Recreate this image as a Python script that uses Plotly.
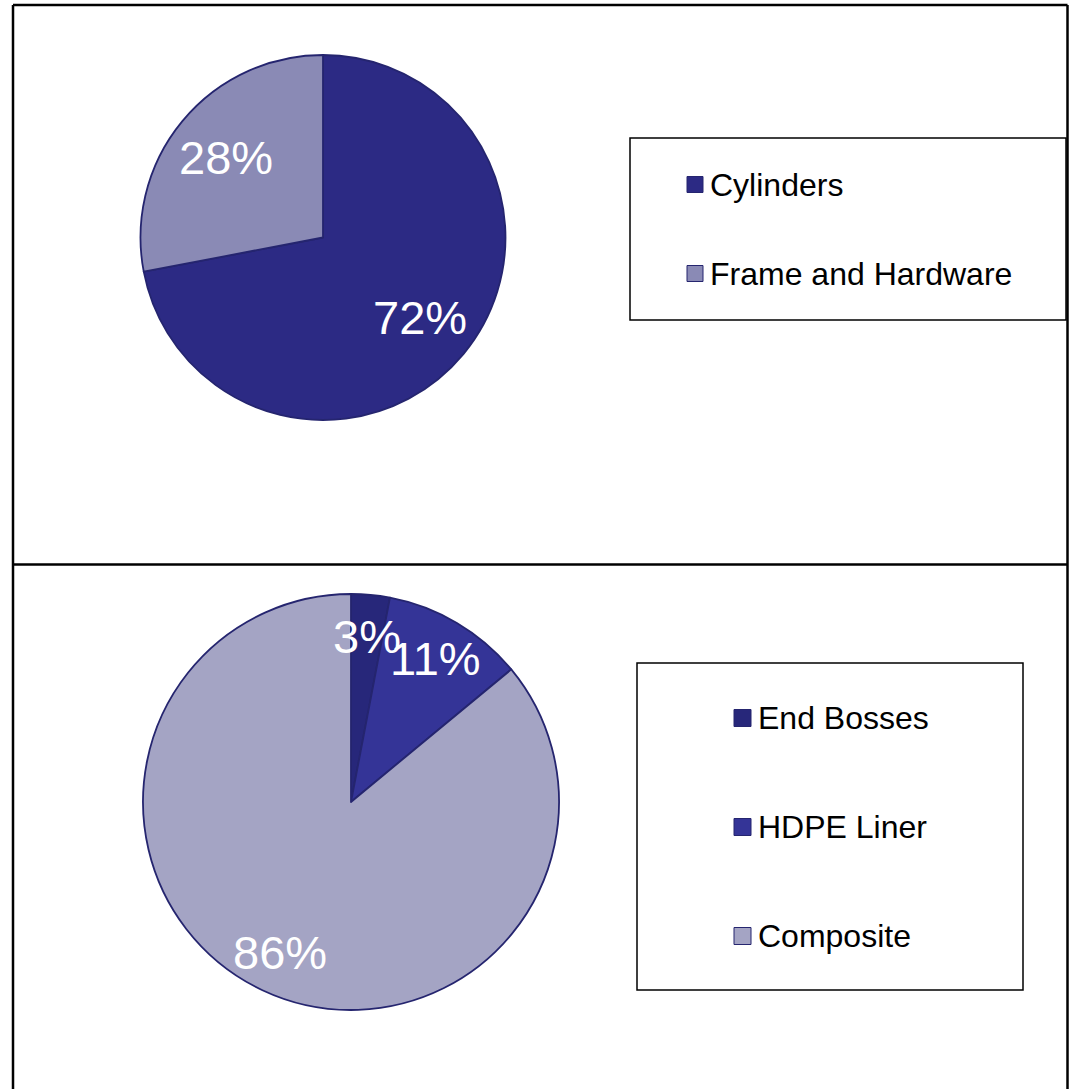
import math
import plotly.graph_objects as go

# ---- data ----
top_labels = ["Cylinders", "Frame and Hardware"]
top_values = [72, 28]
top_colors = ["#2C2A84", "#8A8AB5"]

bot_labels = ["End Bosses", "HDPE Liner", "Composite"]
bot_values = [3, 11, 86]
bot_colors = ["#27277A", "#343497", "#A4A4C4"]

W, H = 1070, 1089
OUTLINE = "#25256F"
FONT = "Liberation Sans, Arial, sans-serif"


def px(x):
    return x / W


def py(y):
    return 1 - y / H


fig = go.Figure()
annotations = []
shapes = []


def add_pie(labels, values, colors, cx, cy, r, label_ratio, label_size):
    fig.add_trace(go.Pie(
        labels=labels, values=values, sort=False, direction="clockwise",
        rotation=0, textinfo="none", showlegend=False,
        marker=dict(colors=colors, line=dict(color=OUTLINE, width=1.8)),
        domain=dict(x=[px(cx - r), px(cx + r)], y=[py(cy + r), py(cy - r)]),
    ))
    total = sum(values)
    cum = 0
    for v in values:
        mid = (cum + v / 2) / total * 2 * math.pi
        cum += v
        lx = cx + label_ratio * r * math.sin(mid)
        ly = cy - label_ratio * r * math.cos(mid)
        annotations.append(dict(
            x=px(lx), y=py(ly), xref="paper", yref="paper", showarrow=False,
            text=f"{round(v / total * 100)}%", xanchor="center", yanchor="middle",
            font=dict(family=FONT, size=label_size, color="white"),
        ))


def add_legend(labels, colors, box, first_y, gap, mx, msize, font_size):
    x0, y0, x1, y1 = box
    shapes.append(dict(type="rect", xref="paper", yref="paper",
                       x0=px(x0), x1=px(x1), y0=py(y1), y1=py(y0),
                       line=dict(color="black", width=1.5), fillcolor="white"))
    for i, (lab, col) in enumerate(zip(labels, colors)):
        yc = first_y + i * gap
        shapes.append(dict(type="rect", xref="paper", yref="paper",
                           x0=px(mx), x1=px(mx + msize),
                           y0=py(yc + msize / 2), y1=py(yc - msize / 2),
                           line=dict(color=OUTLINE, width=1), fillcolor=col))
        annotations.append(dict(
            x=px(mx + msize + 5), y=py(yc), xref="paper", yref="paper",
            showarrow=False, text=lab, xanchor="left", yanchor="middle",
            font=dict(family=FONT, size=font_size, color="black"),
        ))


add_pie(top_labels, top_values, top_colors, 323, 237.5, 182.5, 0.69, 47)
add_pie(bot_labels, bot_values, bot_colors, 351, 802, 208, 0.80, 47)

add_legend(top_labels, top_colors, (630, 138, 1066, 320), 184.5, 89, 687, 16, 32)
add_legend(bot_labels, bot_colors, (637, 663, 1023, 990), 718, 109, 734, 17, 32)

# outer frame and divider
for (x0, y0, x1, y1) in [(13, 5, 1067.5, 5), (13, 5, 13, 1095), (1067.5, 5, 1067.5, 1095),
                         (13, 564.5, 1067.5, 564.5)]:
    shapes.append(dict(type="line", xref="paper", yref="paper",
                       x0=px(x0), x1=px(x1), y0=py(y0), y1=py(y1),
                       line=dict(color="black", width=2.5)))

fig.update_layout(
    width=W, height=H, margin=dict(l=0, r=0, t=0, b=0),
    paper_bgcolor="white", plot_bgcolor="white",
    shapes=shapes, annotations=annotations, showlegend=False,
)

fig.write_html("out.html")
